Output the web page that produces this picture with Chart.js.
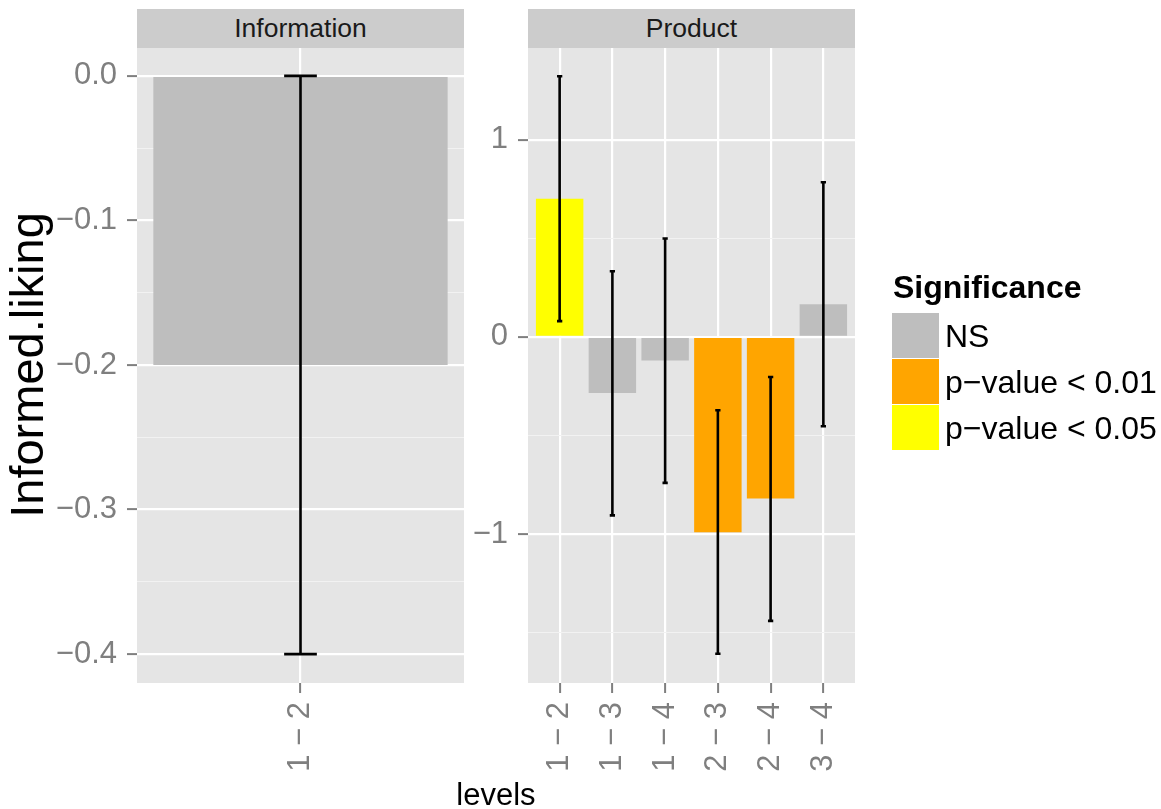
<!DOCTYPE html>
<html>
<head>
<meta charset="utf-8">
<title>Informed.liking by levels</title>
<script src="https://cdn.jsdelivr.net/npm/chart.js@4.4.0/dist/chart.umd.min.js"></script>
<style>
    body { margin: 0; background: #fff; font-family: "Liberation Sans", Arial, sans-serif; }
    #wrap { position: relative; width: 1161px; height: 809px; overflow: hidden; background: #fff; }
    #wrap canvas { position: absolute; left: 0; top: 0; }
    .strip { position: absolute; top: 9px; height: 38.5px; line-height: 38.5px; background: #CCCCCC;
             color: #1A1A1A; font-size: 26.5px; text-align: center; }
    #xtitle { position: absolute; top: 779px; width: 300px; font-size: 31px; line-height: 31px;
              text-align: center; color: #000; }
    #legend { position: absolute; left: 892px; top: 271px; color: #000; }
    #legend .title { font-size: 32px; line-height: 32px; font-weight: bold; padding-left: 1px; margin-bottom: 10px; }
    #legend .row { height: 46px; position: relative; }
    #legend .key { position: absolute; left: 0; top: 0; width: 47px; height: 44.5px; }
    #legend .lab { position: absolute; left: 53px; top: 7px; font-size: 32px; line-height: 32px; white-space: nowrap; }
</style>
</head>
<body>
<div id="wrap">
    <canvas id="info" width="1161" height="809"></canvas>
    <canvas id="product" width="1161" height="809"></canvas>
    <div class="strip" id="strip-info">Information</div>
    <div class="strip" id="strip-product">Product</div>
    <div id="xtitle">levels</div>
    <div id="legend"></div>
</div>
<script>
// Facet "Information"
const infoLevels = ['1 − 2'];
const infoEstimate = [-0.2];
const infoLower = [-0.4];
const infoUpper = [0.0];
const infoSignif = ['NS'];
const infoYTicks = [0, -0.1, -0.2, -0.3, -0.4];
const infoYLabels = ['0.0', '−0.1', '−0.2', '−0.3', '−0.4'];
const infoYMinor = [-0.05, -0.15, -0.25, -0.35];

// Facet "Product"
const productLevels = ['1 − 2', '1 − 3', '1 − 4', '2 − 3', '2 − 4', '3 − 4'];
const productEstimate = [0.70, -0.285, -0.12, -0.99, -0.82, 0.165];
const productLower = [0.08, -0.905, -0.74, -1.607, -1.44, -0.453];
const productUpper = [1.322, 0.333, 0.499, -0.372, -0.203, 0.784];
const productSignif = ['p−value < 0.05', 'NS', 'NS', 'p−value < 0.01', 'p−value < 0.01', 'NS'];
const productYTicks = [1, 0, -1];
const productYLabels = ['1', '0', '−1'];
const productYMinor = [0.5, -0.5, -1.5];

// Legend
const signifLevels = ['NS', 'p−value < 0.01', 'p−value < 0.05'];
const signifColors = ['#BEBEBE', '#FFA500', '#FFFF00'];

const FONT = '"Liberation Sans", Arial, sans-serif';
const W = 1161, H = 809;

const colorOf = s => signifColors[signifLevels.indexOf(s)];
const has = (arr, v) => arr.some(a => Math.abs(a - v) < 1e-9);

// grey panel behind the grid
const panelBg = {
    id: 'panelBg',
    beforeDraw(chart) {
        const { ctx, chartArea: a } = chart;
        ctx.save();
        ctx.fillStyle = '#E5E5E5';
        ctx.fillRect(a.left, a.top, a.width, a.height);
        ctx.restore();
    }
};

// error bars, caps are 0.1 wide where the bar is 0.9
function errorBars(lower, upper) {
    return {
        id: 'errorBars',
        afterDatasetsDraw(chart) {
            const { ctx } = chart;
            const y = chart.scales.y;
            const meta = chart.getDatasetMeta(0);
            ctx.save();
            ctx.strokeStyle = '#000';
            ctx.lineWidth = 2.6;
            meta.data.forEach((bar, i) => {
                const x = bar.x;
                const half = bar.width / 18;
                const yl = y.getPixelForValue(lower[i]);
                const yu = y.getPixelForValue(upper[i]);
                ctx.beginPath();
                ctx.moveTo(x, yu); ctx.lineTo(x, yl);
                ctx.moveTo(x - half, yu); ctx.lineTo(x + half, yu);
                ctx.moveTo(x - half, yl); ctx.lineTo(x + half, yl);
                ctx.stroke();
            });
            ctx.restore();
        }
    };
}

function gridFor(minor) {
    return {
        offset: false,
        color: c => (c.tick && has(minor, c.tick.value)) ? '#F2F2F2' : '#FFFFFF',
        lineWidth: c => (c.tick && has(minor, c.tick.value)) ? 1.1 : 2.2,
        tickColor: c => (c.tick && has(minor, c.tick.value)) ? 'rgba(0,0,0,0)' : '#7F7F7F',
        tickWidth: 2,
        tickLength: 10,
        drawTicks: true
    };
}

function yScale(min, max, major, labels, minor, axisWidth) {
    return {
        type: 'linear',
        min: min,
        max: max,
        border: { display: false },
        grid: gridFor(minor),
        afterBuildTicks: s => {
            s.ticks = major.concat(minor).sort((a, b) => a - b).map(v => ({ value: v }));
        },
        ticks: {
            padding: 10,
            color: '#7F7F7F',
            font: { family: FONT, size: 31 },
            callback: v => {
                const k = major.findIndex(t => Math.abs(t - v) < 1e-9);
                return k < 0 ? '' : labels[k];
            }
        },
        afterFit: s => { s.width = axisWidth; s.paddingTop = 0; s.paddingBottom = 0; }
    };
}

const xTicks = {
    padding: 9,
    autoSkip: false,
    minRotation: 90,
    maxRotation: 90,
    color: '#7F7F7F',
    font: { family: FONT, size: 31 }
};

const xFit = s => { s.height = H - 683; s.paddingLeft = 0; s.paddingRight = 0; };

const infoChart = new Chart(document.getElementById('info'), {
    type: 'bar',
    data: {
        labels: infoLevels,
        datasets: [{
            data: infoEstimate,
            backgroundColor: infoSignif.map(colorOf),
            borderWidth: 0,
            barPercentage: 0.9,
            categoryPercentage: 1
        }]
    },
    options: {
        responsive: false,
        animation: false,
        devicePixelRatio: 1,
        layout: { padding: { left: 0, top: 47, right: W - 464, bottom: 0 } },
        plugins: { legend: { display: false }, tooltip: { enabled: false } },
        scales: {
            x: {
                type: 'category',
                offset: true,
                border: { display: false },
                grid: gridFor([]),
                ticks: xTicks,
                afterFit: xFit
            },
            y: Object.assign(yScale(-0.42, 0.02, infoYTicks, infoYLabels, infoYMinor, 137), {
                title: {
                    display: true,
                    text: 'Informed.liking',
                    color: '#000',
                    font: { family: FONT, size: 47 },
                    padding: { top: 2, bottom: 0 }
                }
            })
        }
    },
    plugins: [panelBg, errorBars(infoLower, infoUpper)]
});

const productChart = new Chart(document.getElementById('product'), {
    type: 'bar',
    data: {
        datasets: [{
            data: productLevels.map((_, i) => ({ x: i + 1, y: productEstimate[i] })),
            backgroundColor: productSignif.map(colorOf),
            borderWidth: 0,
            barPercentage: 0.9,
            categoryPercentage: 1
        }]
    },
    options: {
        responsive: false,
        animation: false,
        devicePixelRatio: 1,
        layout: { padding: { left: 0, top: 47, right: W - 855, bottom: 0 } },
        plugins: { legend: { display: false }, tooltip: { enabled: false } },
        scales: {
            x: {
                type: 'linear',
                min: 0.4,
                max: 6.6,
                offset: false,
                border: { display: false },
                grid: gridFor([]),
                afterBuildTicks: s => {
                    s.ticks = productLevels.map((_, i) => ({ value: i + 1 }));
                },
                ticks: Object.assign({}, xTicks, {
                    callback: v => productLevels[Math.round(v) - 1] || ''
                }),
                afterFit: xFit
            },
            y: yScale(-1.755, 1.47, productYTicks, productYLabels, productYMinor, 528)
        }
    },
    plugins: [panelBg, errorBars(productLower, productUpper)]
});

// strips sit on top of each panel
function placeStrip(id, chart) {
    const a = chart.chartArea;
    const el = document.getElementById(id);
    el.style.left = a.left + 'px';
    el.style.width = a.width + 'px';
}
placeStrip('strip-info', infoChart);
placeStrip('strip-product', productChart);

// x title centred across both panels
const xt = document.getElementById('xtitle');
xt.style.left = ((infoChart.chartArea.left + productChart.chartArea.right) / 2 - 150) + 'px';

// legend
const legend = document.getElementById('legend');
legend.innerHTML = '<div class="title">Significance</div>' + signifLevels.map((s, i) =>
    `<div class="row"><div class="key" style="background:${signifColors[i]}"></div><div class="lab">${s}</div></div>`
).join('');
</script>
</body>
</html>
